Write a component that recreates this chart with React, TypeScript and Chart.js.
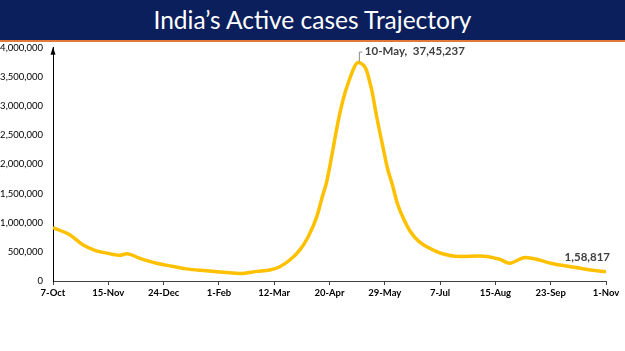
import React, { useEffect, useRef } from 'react';
import { Chart, registerables } from 'chart.js';

Chart.register(...registerables);

// X tick labels (one every 39 days, starting 7-Oct-2020)
const tickLabels = ['7-Oct', '15-Nov', '24-Dec', '1-Feb', '12-Mar', '20-Apr', '29-May', '7-Jul', '15-Aug', '23-Sep', '1-Nov'];
const tickStepDays = 39;
const lastDay = 390;

// Day offsets from 7-Oct-2020 and active cases
const dayIndex = [0, 12, 21, 30, 38, 47, 52, 61, 73, 85, 94, 108, 122, 132, 144, 153, 160, 167, 174, 180, 186, 190, 193, 197, 200, 203, 206, 209, 212, 215, 219, 221, 223, 225, 228, 233, 236, 239, 243, 247, 252, 258, 265, 273, 287, 301, 315, 322, 333, 343, 351, 365, 379, 390];
const activeCases = [915000, 790000, 620000, 522000, 478000, 440000, 468000, 392000, 305000, 248000, 208000, 176000, 145000, 130000, 165000, 190000, 245000, 360000, 530000, 760000, 1100000, 1450000, 1700000, 2200000, 2600000, 2950000, 3230000, 3450000, 3640000, 3745237, 3700000, 3620000, 3450000, 3250000, 2850000, 2260000, 1920000, 1680000, 1320000, 1080000, 850000, 680000, 570000, 480000, 420000, 430000, 372000, 305000, 405000, 360000, 305000, 246000, 190000, 158817];

const peakIndex = 29;
const peakText = '10-May,  37,45,237';
const lastText = '1,58,817';

const yMax = 4000000;
const yStep = 500000;

const W = 625;
const H = 351;
const BANNER = 40;
const CANVAS_TOP = 32;

export default function App() {
  const ref = useRef<HTMLCanvasElement | null>(null);

  useEffect(() => {
    document.body.style.margin = '0';
    const canvas = ref.current;
    if (!canvas) return;

    const overlay = {
      id: 'overlay',
      afterDatasetsDraw(chart: any) {
        const ctx = chart.ctx;
        const xs = chart.scales.x;
        const ys = chart.scales.y;
        const area = chart.chartArea;
        ctx.save();
        // arrow on y axis
        ctx.fillStyle = '#000000';
        ctx.beginPath();
        ctx.moveTo(area.left, area.top - 1);
        ctx.lineTo(area.left - 2.5, area.top + 7);
        ctx.lineTo(area.left + 2.5, area.top + 7);
        ctx.closePath();
        ctx.fill();

        // peak label
        const px = xs.getPixelForValue(dayIndex[peakIndex]);
        const py = ys.getPixelForValue(activeCases[peakIndex]);
        ctx.strokeStyle = '#8c8c8c';
        ctx.lineWidth = 1;
        ctx.beginPath();
        ctx.moveTo(px + 1.5, py - 1);
        ctx.lineTo(px + 1.5, py - 10.5);
        ctx.lineTo(px + 4.5, py - 10.5);
        ctx.stroke();
        ctx.fillStyle = '#404040';
        ctx.font = 'bold 11.5px Lato';
        ctx.textAlign = 'left';
        ctx.textBaseline = 'middle';
        ctx.fillText(peakText, px + 7, py - 11);

        // last label
        const li = dayIndex.length - 1;
        const lx = xs.getPixelForValue(dayIndex[li]);
        const ly = ys.getPixelForValue(activeCases[li]);
        ctx.textAlign = 'right';
        ctx.fillText(lastText, lx + 4, ly - 14);
        ctx.restore();
      },
    };

    const chart = new Chart(canvas, {
      type: 'line',
      data: {
        datasets: [
          {
            data: dayIndex.map((d, i) => ({ x: d, y: activeCases[i] })),
            borderColor: '#FFC000',
            borderWidth: 3.5,
            pointRadius: 0,
            cubicInterpolationMode: 'monotone',
            fill: false,
          },
        ],
      },
      options: {
        animation: false,
        responsive: false,
        maintainAspectRatio: false,
        layout: { padding: { top: 0, right: 19, left: 0, bottom: 0 } },
        plugins: { legend: { display: false }, tooltip: { enabled: false } },
        scales: {
          x: {
            type: 'linear',
            min: 0,
            max: lastDay,
            afterFit: (s: any) => {
              s.height = 70;
            },
            afterBuildTicks: (s: any) => {
              s.ticks = tickLabels.map((_, i) => ({ value: i * tickStepDays }));
            },
            ticks: {
              autoSkip: false,
              maxRotation: 0,
              padding: 2,
              color: '#000000',
              font: { family: 'Lato', size: 9.5, weight: 'bold' },
              callback: (v: any) => {
                const i = Math.round(Number(v) / tickStepDays);
                return tickLabels[i] ?? '';
              },
            },
            grid: { drawOnChartArea: false, drawTicks: true, tickLength: 4, color: '#404040' },
            border: { display: true, color: '#404040', width: 1 },
          },
          y: {
            min: 0,
            max: yMax,
            afterFit: (s: any) => {
              s.width = 53;
            },
            ticks: {
              stepSize: yStep,
              padding: 10,
              color: '#000000',
              font: { family: 'Lato', size: 9.5 },
              callback: (v: any) => Number(v).toLocaleString('en-US'),
            },
            grid: { drawOnChartArea: false, drawTicks: false },
            border: { display: true, color: '#000000', width: 1 },
          },
        },
      },
      plugins: [overlay],
    } as any);

    return () => chart.destroy();
  }, []);

  return (
    <div style={{ position: 'relative', width: W, height: H, background: '#ffffff', overflow: 'hidden' }}>
      <canvas
        ref={ref}
        width={W}
        height={H - CANVAS_TOP}
        style={{ position: 'absolute', left: 0, top: CANVAS_TOP, width: W, height: H - CANVAS_TOP }}
      />
      <div
        style={{
          position: 'absolute',
          left: 0,
          top: 0,
          width: W,
          height: BANNER,
          zIndex: 1,
          background: '#0B1F5C',
          borderBottom: '2px solid #E0793A',
          color: '#ffffff',
          fontFamily: 'Lato, sans-serif',
          fontSize: 24.5,
          lineHeight: BANNER + 'px',
          textAlign: 'center',
        }}
      >
        India’s Active cases Trajectory
      </div>
    </div>
  );
}
